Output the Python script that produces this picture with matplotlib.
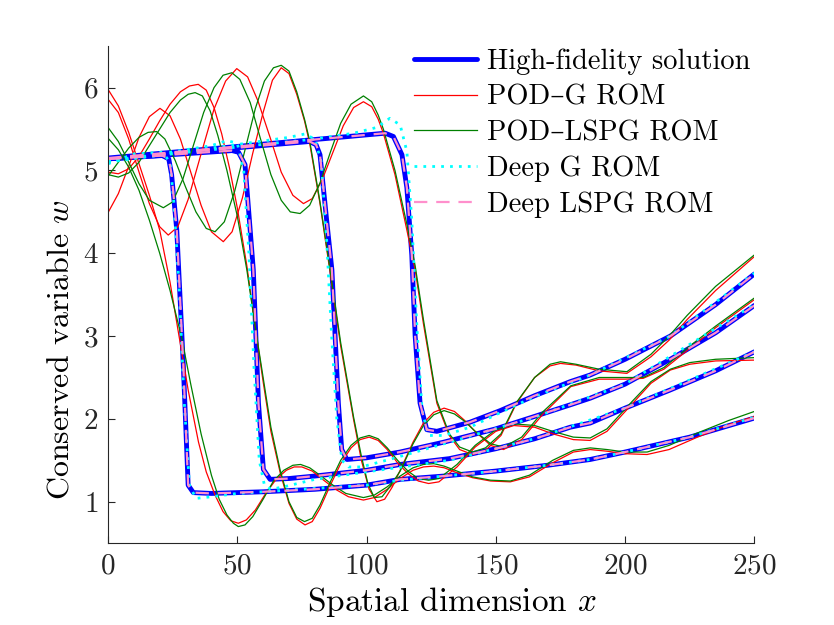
import matplotlib
matplotlib.use("Agg")
import matplotlib.pyplot as plt
from matplotlib.ticker import FuncFormatter

plt.rcParams['font.family'] = ['cmr10', 'DejaVu Serif']
plt.rcParams['mathtext.fontset'] = 'cm'
plt.rcParams['axes.unicode_minus'] = False
plt.rcParams['axes.formatter.use_mathtext'] = True

# --- Solución de alta fidelidad (4 instantes de tiempo) ---
hf1_x = [0, 21, 23.5, 24.6, 26.6, 29.1, 31, 33, 40, 60, 80, 100, 113, 130, 150, 170, 186.5, 200, 225, 250]
hf1_w = [5.14, 5.18, 5.14, 4.95, 4.28, 2.67, 1.2, 1.11, 1.1, 1.12, 1.15, 1.2, 1.27, 1.31, 1.37, 1.44, 1.51, 1.6, 1.78, 2.01]

hf2_x = [0, 48, 50.5, 53, 56.2, 58.2, 60.1, 62.7, 70, 80, 100, 113, 132, 150, 165, 178.8, 186.5, 200, 217.5, 235, 250]
hf2_w = [5.14, 5.24, 5.22, 5.07, 3.8, 2.19, 1.39, 1.27, 1.28, 1.31, 1.38, 1.45, 1.52, 1.64, 1.76, 1.9, 1.95, 2.13, 2.35, 2.58, 2.81]

hf3_x = [0, 78, 80.5, 82, 84.6, 86.6, 89.1, 90.4, 92.4, 100, 113, 130, 150, 165, 178.8, 186.5, 200, 217.5, 235, 250]
hf3_w = [5.14, 5.35, 5.31, 5.19, 4.39, 3.8, 2.19, 1.63, 1.51, 1.53, 1.6, 1.72, 1.88, 2.03, 2.17, 2.25, 2.42, 2.72, 3.04, 3.37]

hf4_x = [0, 107.2, 110.4, 113.7, 115.6, 117.5, 118.8, 120.7, 123.3, 127.2, 140, 151.7, 165, 178.8, 186.5, 200, 217.5, 235, 250]
hf4_w = [5.15, 5.45, 5.41, 5.19, 4.79, 3.98, 3.0, 2.19, 1.87, 1.85, 1.96, 2.1, 2.28, 2.45, 2.53, 2.72, 3.0, 3.38, 3.75]

# --- POD-G ROM (rojo) ---
r1_x = [0, 4, 8, 12, 16, 20, 24, 27.2, 31, 35, 38, 41.4, 44.5, 47.5, 50.4, 53.5, 57, 61, 65, 69, 72, 75, 79, 83, 88, 93, 98.8,
        103, 108, 113, 118, 122, 126, 130, 135, 141, 148, 155.6, 163, 172, 180, 186.5, 193, 200, 208.5, 217, 228, 240, 250]
r1_w = [5.98, 5.78, 5.46, 5.08, 4.7, 4.28, 3.65, 3.05, 2.35, 1.72, 1.36, 1.08, 0.88, 0.77, 0.74, 0.78, 0.9, 1.1, 1.27, 1.38, 1.42, 1.42, 1.37, 1.27, 1.15, 1.06, 1.02,
        1.05, 1.15, 1.28, 1.38, 1.42, 1.43, 1.41, 1.35, 1.29, 1.25, 1.24, 1.3, 1.47, 1.6, 1.63, 1.61, 1.58, 1.57, 1.63, 1.78, 1.93, 2.03]

r2_x = [0, 4, 8, 12, 16, 20, 24, 28, 31.5, 34.9, 38, 41, 44, 47, 50, 53.7, 57, 60, 63, 66.6, 70, 73, 76.2, 79, 82, 86, 90, 94, 97.5, 101,
        104.5, 108, 112, 116, 120, 124, 128, 135, 142, 150, 157, 165, 172, 180, 186.5, 193, 203, 210, 217.5, 225, 235, 250]
r2_w = [4.98, 4.96, 5.02, 5.17, 5.38, 5.6, 5.8, 5.95, 6.02, 6.04, 5.97, 5.76, 5.44, 5.03, 4.55, 3.85, 3.1, 2.45, 1.85, 1.35, 0.98, 0.79, 0.72, 0.76, 0.92, 1.2, 1.46, 1.65, 1.75, 1.78,
        1.74, 1.63, 1.47, 1.34, 1.25, 1.22, 1.24, 1.42, 1.66, 1.85, 1.92, 1.9, 1.82, 1.75, 1.74, 1.85, 2.19, 2.43, 2.59, 2.66, 2.7, 2.71]

r3_x = [0, 4, 8, 12, 16, 20.1, 24, 28, 32, 36, 40, 44.6, 48, 52, 56, 60, 63.6, 67, 70, 73, 76, 78, 82, 86, 90, 95, 98, 101, 104, 107, 110,
        113, 118, 122, 126, 130, 134, 138, 142, 148, 153, 160, 168, 179, 190, 200, 207, 215, 225, 235, 250]
r3_w = [4.49, 4.72, 5.05, 5.4, 5.65, 5.75, 5.66, 5.38, 4.98, 4.58, 4.26, 4.14, 4.26, 4.67, 5.21, 5.7, 6.09, 6.24, 6.17, 5.92, 5.6, 5.33, 4.6, 3.75, 2.88, 1.99, 1.5, 1.15, 1.0, 1.03, 1.18,
        1.38, 1.72, 1.95, 2.08, 2.13, 2.09, 1.98, 1.85, 1.68, 1.63, 1.75, 2.05, 2.39, 2.48, 2.48, 2.49, 2.6, 2.85, 3.1, 3.44]

r4_x = [0, 4, 8, 12, 16, 20, 23.3, 27, 31, 36, 41, 45.5, 49.8, 54, 58, 63, 67, 71.5, 75.6, 79, 83, 87, 91, 95, 98.8, 102, 104.5, 106.5, 111, 115.6,
        118.8, 122, 127.2, 132, 136, 141, 146, 152, 158, 165, 171, 175, 181, 190, 200.7, 210, 217, 224, 235, 250]
r4_w = [5.86, 5.7, 5.38, 4.98, 4.6, 4.32, 4.22, 4.32, 4.65, 5.2, 5.74, 6.08, 6.23, 6.13, 5.84, 5.37, 4.98, 4.7, 4.6, 4.66, 4.9, 5.22, 5.54, 5.76, 5.83, 5.77, 5.62, 5.45, 4.95, 4.28,
        3.8, 3.15, 2.19, 1.8, 1.63, 1.57, 1.62, 1.8, 2.19, 2.5, 2.64, 2.67, 2.65, 2.58, 2.55, 2.75, 2.95, 3.2, 3.55, 3.96]

# --- POD-LSPG ROM (verde) ---
g1_x = [0, 4, 8, 12, 16, 20, 24, 28.5, 32, 36, 40, 43, 46, 48.5, 50.4, 53, 56, 60, 64, 68, 71.5, 74.5, 78, 82, 87, 92, 98.8,
        103, 108, 113, 118, 122, 126, 130, 135, 141, 148, 155.6, 163, 172, 180, 186.5, 193, 200, 208.5, 217, 228, 240, 250]
g1_w = [5.39, 5.25, 5.04, 4.76, 4.4, 4.0, 3.55, 2.98, 2.42, 1.82, 1.32, 1.03, 0.84, 0.74, 0.7, 0.72, 0.82, 1.03, 1.25, 1.38, 1.44, 1.45, 1.41, 1.32, 1.2, 1.1, 1.05,
        1.08, 1.18, 1.31, 1.41, 1.45, 1.46, 1.43, 1.37, 1.3, 1.26, 1.25, 1.32, 1.5, 1.62, 1.65, 1.63, 1.6, 1.6, 1.68, 1.83, 1.98, 2.09]

g2_x = [0, 4, 8, 12, 16, 20, 24, 28, 31, 33.7, 36.5, 39.5, 42.5, 46, 50, 53.7, 57, 60, 63, 66.6, 70, 73, 76, 79, 82, 86, 90, 94, 97.5, 101,
        104.5, 108, 112, 116, 120, 124, 128, 135, 142, 150, 157, 165, 172, 180, 186.5, 193, 203, 210, 217.5, 225, 235, 250]
g2_w = [4.95, 4.92, 4.97, 5.1, 5.3, 5.5, 5.7, 5.85, 5.92, 5.94, 5.9, 5.72, 5.42, 5.0, 4.45, 3.8, 3.1, 2.5, 1.9, 1.38, 1.0, 0.81, 0.76, 0.8, 0.96, 1.24, 1.5, 1.68, 1.77, 1.8,
        1.76, 1.65, 1.5, 1.37, 1.28, 1.26, 1.28, 1.45, 1.68, 1.87, 1.94, 1.92, 1.85, 1.78, 1.77, 1.88, 2.22, 2.45, 2.6, 2.68, 2.72, 2.74]

g3_x = [0, 4, 8, 12, 15.5, 18.8, 22, 26, 30, 34, 38, 41.4, 45, 49, 53, 57, 60.5, 64, 67, 70, 73, 76, 78, 82, 86, 90, 95, 98, 100.5, 103, 106, 109,
        113, 118, 122, 126, 130, 134, 138, 142, 148, 153, 160, 168, 179, 190, 200, 207, 215, 225, 235, 250]
g3_w = [4.93, 5.1, 5.27, 5.4, 5.46, 5.47, 5.38, 5.12, 4.8, 4.5, 4.3, 4.26, 4.38, 4.75, 5.25, 5.75, 6.08, 6.24, 6.27, 6.2, 5.95, 5.62, 5.36, 4.62, 3.78, 2.92, 2.02, 1.55, 1.22, 1.05, 1.06, 1.18,
        1.37, 1.7, 1.92, 2.05, 2.1, 2.06, 1.97, 1.85, 1.7, 1.66, 1.78, 2.08, 2.4, 2.5, 2.5, 2.5, 2.62, 2.88, 3.12, 3.46]

g4_x = [0, 4, 8, 12, 16, 21.4, 25, 29, 33, 37, 41, 44.5, 47.9, 51, 55, 59, 63, 67, 70.5, 74.3, 78, 82, 86, 90, 94, 98.8, 102, 104.5, 106.5, 111, 115.6,
        118.8, 122, 127.2, 132, 136, 141, 146, 152, 158, 165, 171, 175, 181, 190, 200.7, 210, 217, 224, 235, 250]
g4_w = [5.52, 5.35, 5.1, 4.84, 4.64, 4.55, 4.62, 4.9, 5.3, 5.7, 6.0, 6.15, 6.18, 6.1, 5.82, 5.38, 4.95, 4.64, 4.5, 4.48, 4.58, 4.85, 5.22, 5.57, 5.8, 5.9, 5.83, 5.67, 5.5, 5.0, 4.35,
        3.85, 3.2, 2.22, 1.82, 1.66, 1.6, 1.65, 1.82, 2.2, 2.5, 2.66, 2.69, 2.66, 2.6, 2.57, 2.78, 3.0, 3.25, 3.6, 3.98]

# --- Deep G ROM (cian, punteado) ---
dg1_x = [0, 10, 21, 24, 25.5, 27.5, 29.5, 31.5, 34, 40, 50, 60, 80, 100, 113, 130, 150, 170, 186.5, 200, 225, 250]
dg1_w = [5.08, 5.2, 5.22, 5.1, 4.6, 3.6, 2.2, 1.2, 1.04, 1.06, 1.1, 1.12, 1.16, 1.2, 1.26, 1.31, 1.37, 1.44, 1.51, 1.6, 1.78, 2.02]

dg2_x = [0, 20, 40, 46, 50, 52.5, 54.5, 56.5, 58.5, 60.5, 63, 68, 80, 100, 132, 165, 200, 250]
dg2_w = [5.1, 5.2, 5.3, 5.36, 5.33, 5.0, 4.0, 2.6, 1.5, 1.2, 1.15, 1.18, 1.27, 1.36, 1.5, 1.76, 2.13, 2.81]

dg3_x = [0, 40, 70, 76, 80, 82.5, 84.5, 86.5, 88.5, 90.5, 93, 98, 110, 130, 165, 200, 250]
dg3_w = [5.1, 5.27, 5.4, 5.44, 5.38, 5.1, 4.2, 3.0, 2.0, 1.5, 1.42, 1.42, 1.52, 1.7, 2.02, 2.42, 3.38]

dg4_x = [0, 40, 80, 95, 104, 109, 113, 115.6, 117.5, 119.5, 121.5, 124, 130, 140, 152, 165, 186.5, 217.5, 250]
dg4_w = [5.12, 5.25, 5.38, 5.45, 5.52, 5.63, 5.55, 5.23, 4.4, 3.1, 2.1, 1.8, 1.8, 1.9, 2.08, 2.27, 2.53, 3.0, 3.76]

hf = [(hf1_x, hf1_w), (hf2_x, hf2_w), (hf3_x, hf3_w), (hf4_x, hf4_w)]
podg = [(r1_x, r1_w), (r2_x, r2_w), (r3_x, r3_w), (r4_x, r4_w)]
podlspg = [(g1_x, g1_w), (g2_x, g2_w), (g3_x, g3_w), (g4_x, g4_w)]
deepg = [(dg1_x, dg1_w), (dg2_x, dg2_w), (dg3_x, dg3_w), (dg4_x, dg4_w)]

fig = plt.figure(figsize=(8.34, 6.25), dpi=100)
ax = fig.add_axes([0.1295, 0.131, 0.775, 0.795])

for i, (x, w) in enumerate(hf):
    ax.plot(x, w, color='#0000ff', lw=3.5, solid_capstyle='round', solid_joinstyle='round',
            label='High-fidelity solution' if i == 0 else None)
for i, (x, w) in enumerate(podg):
    ax.plot(x, w, color='#ff0000', lw=0.9, label='POD–G ROM' if i == 0 else None)
for i, (x, w) in enumerate(podlspg):
    ax.plot(x, w, color='#008000', lw=0.9, label='POD–LSPG ROM' if i == 0 else None)
for i, (x, w) in enumerate(deepg):
    ax.plot(x, w, color='#00ffff', lw=2.0, ls=(0, (1, 2.2)),
            label='Deep G ROM' if i == 0 else None)
# Deep LSPG coincide con la solución de alta fidelidad
for i, (x, w) in enumerate(hf):
    ax.plot(x, w, color='#ff8fcc', lw=1.6, ls=(0, (6, 4)),
            label='Deep LSPG ROM' if i == 0 else None)

ax.set_xlim(0, 250)
ax.set_ylim(0.5, 6.5)
ax.set_xticks([0, 50, 100, 150, 200, 250])
ax.set_yticks([1, 2, 3, 4, 5, 6])
fmt = FuncFormatter(lambda v, p: r'$%d$' % v)
ax.xaxis.set_major_formatter(fmt)
ax.yaxis.set_major_formatter(fmt)
ax.tick_params(direction='in', length=5, width=0.8, colors='#262626', labelsize=21, pad=7)
for s in ['top', 'right']:
    ax.spines[s].set_visible(False)
for s in ['left', 'bottom']:
    ax.spines[s].set_color('#262626')
    ax.spines[s].set_linewidth(0.8)

ax.set_xlabel(r'Spatial dimension $x$', fontsize=24)
ax.set_ylabel(r'Conserved variable $w$', fontsize=23)
ax.xaxis.set_label_coords(0.532, -0.085)
ax.yaxis.set_label_coords(-0.052, 0.39)

leg = ax.legend(loc='upper right', bbox_to_anchor=(1.02, 1.03), frameon=False,
                fontsize=20.5, handlelength=2.2, handletextpad=0.35, labelspacing=0.33,
                borderaxespad=0.2)

fig.savefig('out.png', dpi=100)
